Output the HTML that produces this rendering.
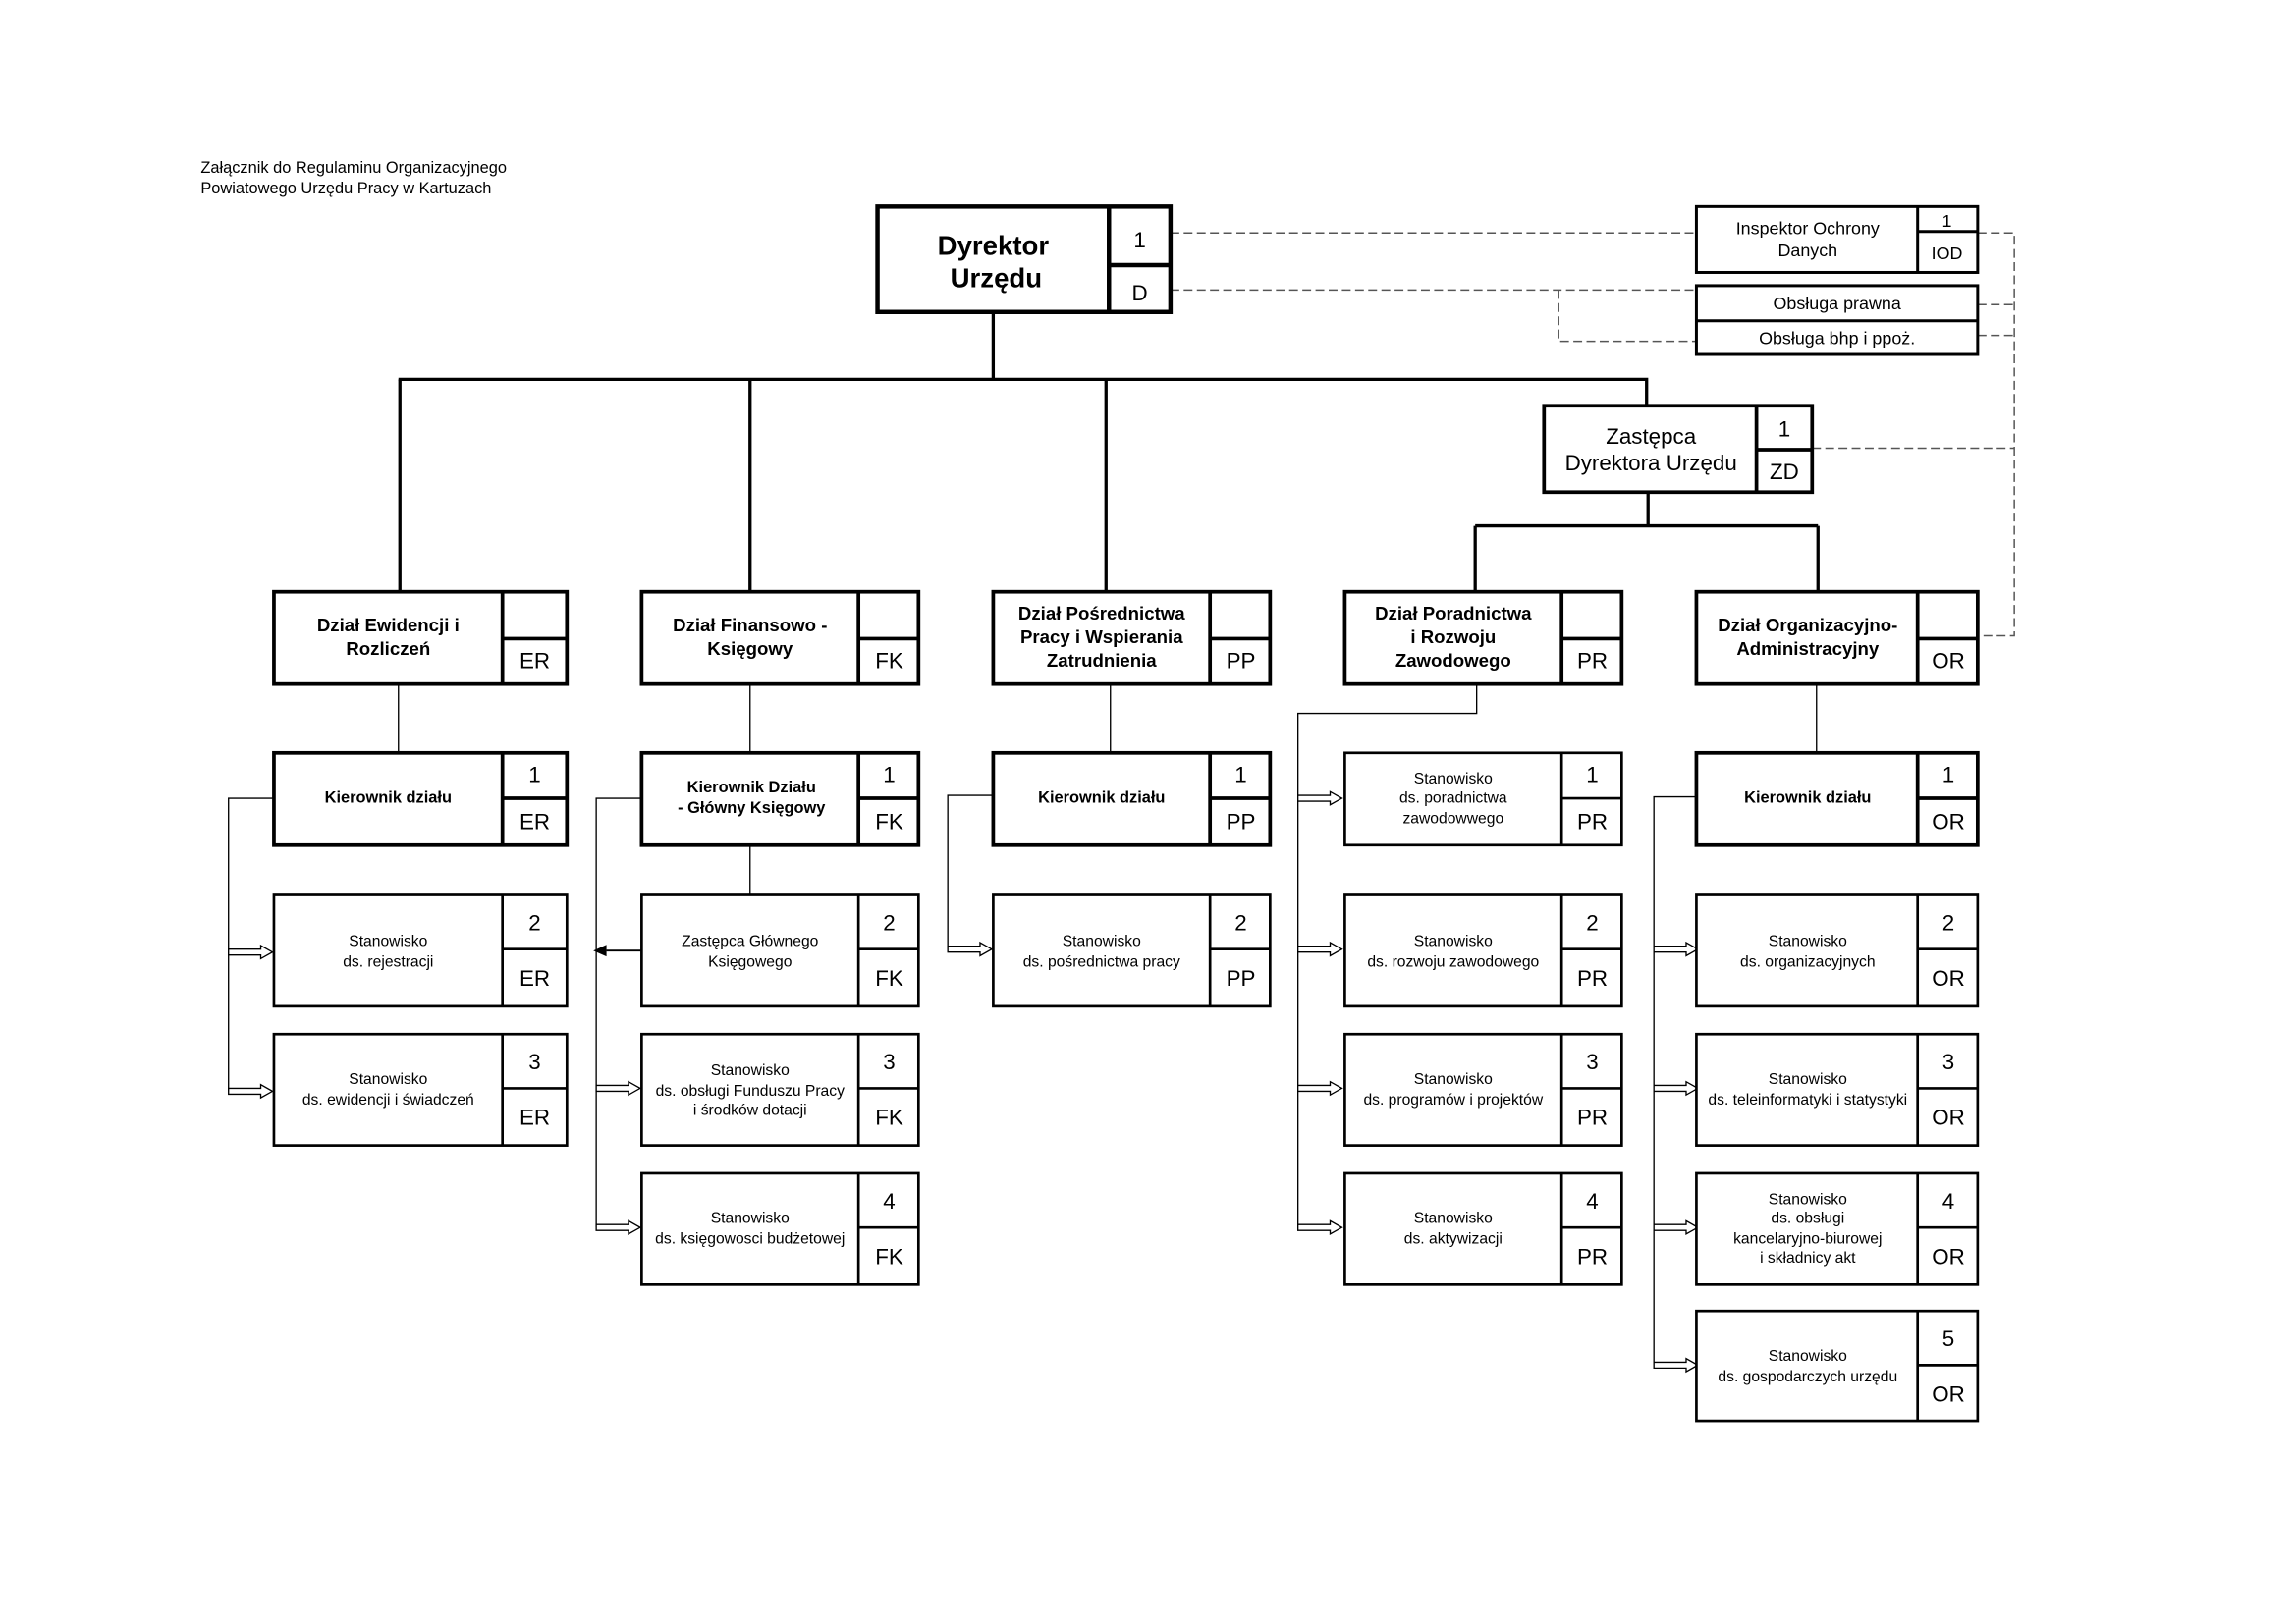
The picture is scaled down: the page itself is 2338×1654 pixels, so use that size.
<!DOCTYPE html>
<html><head><meta charset="utf-8"><style>
html,body{margin:0;padding:0;background:#fff}
svg{display:block}
text{font-family:"Liberation Sans",Arial,sans-serif;fill:#000}
.b{font-weight:bold}
.s{font-size:10.5px;fill:#222}
.c{font-size:15px}
.n{font-size:14.5px}
</style></head><body>
<svg width="2338" height="1654" viewBox="0 0 1567.3 1108.7" preserveAspectRatio="none" xmlns="http://www.w3.org/2000/svg">
<defs>
<g id="ha"><polygon points="0,-2 22,-2 22,-4.5 30,0 22,4.5 22,2 0,2" fill="#fff" stroke="#000" stroke-width="0.9"/></g>
</defs>
<rect width="1567.3" height="1108.7" fill="#fff"/>
<text x="137" y="118" font-size="11">Załącznik do Regulaminu Organizacyjnego</text>
<text x="137" y="132" font-size="11">Powiatowego Urzędu Pracy w Kartuzach</text>

<g stroke="#555" stroke-width="1" stroke-dasharray="6,3" fill="none">
<path d="M799,159 H1158"/>
<path d="M799,198 H1158"/>
<path d="M1064,198 V233 H1158"/>
<path d="M1350,159 H1375 V434 H1350"/>
<path d="M1350,208 H1375"/>
<path d="M1350,229 H1375"/>
<path d="M1237,306 H1375"/>
</g>

<g stroke="#000" stroke-width="2.2" fill="none">
<path d="M678,213 V259"/>
<path d="M272,259 H1124 V277"/>
<path d="M273,259 V404"/>
<path d="M512,259 V404"/>
<path d="M755,259 V404"/>
<path d="M1125,336 V359"/>
<path d="M1007,359 H1241"/>
<path d="M1007,359 V404"/>
<path d="M1241,359 V404"/>
</g>
<g stroke="#000" stroke-width="0.9" fill="none">
<path d="M272,467 V514"/>
<path d="M512,467 V514"/>
<path d="M512,577 V611"/>
<path d="M758,467 V514"/>
<path d="M1240,467 V514"/>
<path d="M187,545 H156 V745"/>
<path d="M438,545 H407 V838"/>
<path d="M678,543 H647 V648"/>
<path d="M1008,467 V487 H886 V838"/>
<path d="M1158,544 H1129 V932"/>
</g>
<path d="M438,649 H414" stroke="#000" stroke-width="1.3"/>
<polygon points="405,649 414,645 414,653" fill="#000"/>
<use href="#ha" x="156" y="650"/><use href="#ha" x="156" y="745"/>
<use href="#ha" x="407" y="743"/><use href="#ha" x="407" y="838"/>
<use href="#ha" x="647" y="648"/>
<use href="#ha" x="886" y="545"/><use href="#ha" x="886" y="648"/><use href="#ha" x="886" y="743"/><use href="#ha" x="886" y="838"/>
<use href="#ha" x="1129" y="648"/><use href="#ha" x="1129" y="743"/><use href="#ha" x="1129" y="838"/><use href="#ha" x="1129" y="932"/>

<g fill="#fff" stroke="#000">
<rect x="599" y="141" width="200" height="72" stroke-width="3"/>
<path d="M757,141 V213 M757,181 H799" stroke-width="3"/>
<rect x="1158" y="141" width="192" height="45" stroke-width="2"/>
<path d="M1309,141 V186 M1309,158 H1350" stroke-width="2"/>
<rect x="1158" y="195" width="192" height="47" stroke-width="2"/>
<path d="M1158,219 H1350" stroke-width="2"/>
<rect x="1054" y="277" width="183" height="59" stroke-width="2.5"/>
<path d="M1199,277 V336 M1199,307 H1237" stroke-width="2.5"/>
<g stroke-width="2.5">
<rect x="187" y="404" width="200" height="63"/><path d="M343,404 V467 M343,436 H387"/>
<rect x="438" y="404" width="189" height="63"/><path d="M586,404 V467 M586,436 H627"/>
<rect x="678" y="404" width="189" height="63"/><path d="M826,404 V467 M826,436 H867"/>
<rect x="918" y="404" width="189" height="63"/><path d="M1066,404 V467 M1066,436 H1107"/>
<rect x="1158" y="404" width="192" height="63"/><path d="M1309,404 V467 M1309,436 H1350"/>
<rect x="187" y="514" width="200" height="63"/><path d="M343,514 V577 M343,545 H387"/>
<rect x="438" y="514" width="189" height="63"/><path d="M586,514 V577 M586,545 H627"/>
<rect x="678" y="514" width="189" height="63"/><path d="M826,514 V577 M826,545 H867"/>
<rect x="1158" y="514" width="192" height="63"/><path d="M1309,514 V577 M1309,545 H1350"/>
</g>
<g stroke-width="1.8">
<rect x="918" y="514" width="189" height="63"/><path d="M1066,514 V577 M1066,545 H1107"/>
<rect x="187" y="611" width="200" height="76"/><path d="M343,611 V687 M343,648 H387"/>
<rect x="438" y="611" width="189" height="76"/><path d="M586,611 V687 M586,648 H627"/>
<rect x="678" y="611" width="189" height="76"/><path d="M826,611 V687 M826,648 H867"/>
<rect x="918" y="611" width="189" height="76"/><path d="M1066,611 V687 M1066,648 H1107"/>
<rect x="1158" y="611" width="192" height="76"/><path d="M1309,611 V687 M1309,648 H1350"/>
<rect x="187" y="706" width="200" height="76"/><path d="M343,706 V782 M343,743 H387"/>
<rect x="438" y="706" width="189" height="76"/><path d="M586,706 V782 M586,743 H627"/>
<rect x="918" y="706" width="189" height="76"/><path d="M1066,706 V782 M1066,743 H1107"/>
<rect x="1158" y="706" width="192" height="76"/><path d="M1309,706 V782 M1309,743 H1350"/>
<rect x="438" y="801" width="189" height="76"/><path d="M586,801 V877 M586,838 H627"/>
<rect x="918" y="801" width="189" height="76"/><path d="M1066,801 V877 M1066,838 H1107"/>
<rect x="1158" y="801" width="192" height="76"/><path d="M1309,801 V877 M1309,838 H1350"/>
<rect x="1158" y="895" width="192" height="75"/><path d="M1309,895 V970 M1309,932 H1350"/>
</g>
</g>

<g text-anchor="middle">
<text x="678" y="174" font-size="18.5" class="b">Dyrektor</text>
<text x="680" y="196" font-size="18.5" class="b">Urzędu</text>
<text x="778" y="169" font-size="15">1</text>
<text x="778" y="205" font-size="15">D</text>

<text x="1234" y="160" font-size="12">Inspektor Ochrony</text>
<text x="1234" y="175" font-size="12">Danych</text>
<text x="1329" y="155" font-size="12">1</text>
<text x="1329" y="177" font-size="12">IOD</text>
<text x="1254" y="211" font-size="12">Obsługa prawna</text>
<text x="1254" y="235" font-size="12">Obsługa bhp i ppoż.</text>

<text x="1127" y="303" font-size="15">Zastępca</text>
<text x="1127" y="321" font-size="15">Dyrektora Urzędu</text>
<text x="1218" y="298" class="c">1</text>
<text x="1218" y="327" class="c">ZD</text>

<g font-size="12.5" class="b">
<text x="265" y="431">Dział Ewidencji i</text><text x="265" y="447">Rozliczeń</text>
<text x="512" y="431">Dział Finansowo -</text><text x="512" y="447">Księgowy</text>
<text x="752" y="423">Dział Pośrednictwa</text><text x="752" y="439">Pracy i Wspierania</text><text x="752" y="455">Zatrudnienia</text>
<text x="992" y="423">Dział Poradnictwa</text><text x="992" y="439">i Rozwoju</text><text x="992" y="455">Zawodowego</text>
<text x="1234" y="431">Dział Organizacyjno-</text><text x="1234" y="447">Administracyjny</text>
</g>
<g class="c">
<text x="365" y="456">ER</text><text x="607" y="456">FK</text><text x="847" y="456">PP</text><text x="1087" y="456">PR</text><text x="1330" y="456">OR</text>
</g>

<g font-size="11" class="b">
<text x="265" y="548">Kierownik działu</text>
<text x="513" y="541">Kierownik Działu</text><text x="513" y="555">- Główny Księgowy</text>
<text x="752" y="548">Kierownik działu</text>
<text x="1234" y="548">Kierownik działu</text>
</g>
<g class="c">
<text x="365" y="534">1</text><text x="365" y="566">ER</text>
<text x="607" y="534">1</text><text x="607" y="566">FK</text>
<text x="847" y="534">1</text><text x="847" y="566">PP</text>
<text x="1087" y="534">1</text><text x="1087" y="566">PR</text>
<text x="1330" y="534">1</text><text x="1330" y="566">OR</text>

<text x="365" y="635">2</text><text x="365" y="673">ER</text>
<text x="607" y="635">2</text><text x="607" y="673">FK</text>
<text x="847" y="635">2</text><text x="847" y="673">PP</text>
<text x="1087" y="635">2</text><text x="1087" y="673">PR</text>
<text x="1330" y="635">2</text><text x="1330" y="673">OR</text>

<text x="365" y="730">3</text><text x="365" y="768">ER</text>
<text x="607" y="730">3</text><text x="607" y="768">FK</text>
<text x="1087" y="730">3</text><text x="1087" y="768">PR</text>
<text x="1330" y="730">3</text><text x="1330" y="768">OR</text>

<text x="607" y="825">4</text><text x="607" y="863">FK</text>
<text x="1087" y="825">4</text><text x="1087" y="863">PR</text>
<text x="1330" y="825">4</text><text x="1330" y="863">OR</text>

<text x="1330" y="919">5</text><text x="1330" y="957">OR</text>
</g>

<g class="s">
<text x="992" y="535">Stanowisko</text><text x="992" y="548">ds. poradnictwa</text><text x="992" y="562">zawodowwego</text>

<text x="265" y="646">Stanowisko</text><text x="265" y="660">ds. rejestracji</text>
<text x="512" y="646">Zastępca Głównego</text><text x="512" y="660">Księgowego</text>
<text x="752" y="646">Stanowisko</text><text x="752" y="660">ds. pośrednictwa pracy</text>
<text x="992" y="646">Stanowisko</text><text x="992" y="660">ds. rozwoju zawodowego</text>
<text x="1234" y="646">Stanowisko</text><text x="1234" y="660">ds. organizacyjnych</text>

<text x="265" y="740">Stanowisko</text><text x="265" y="754">ds. ewidencji i świadczeń</text>
<text x="512" y="734">Stanowisko</text><text x="512" y="748">ds. obsługi Funduszu Pracy</text><text x="512" y="761">i środków dotacji</text>
<text x="992" y="740">Stanowisko</text><text x="992" y="754">ds. programów i projektów</text>
<text x="1234" y="740">Stanowisko</text><text x="1234" y="754">ds. teleinformatyki i statystyki</text>

<text x="512" y="835">Stanowisko</text><text x="512" y="849">ds. księgowosci budżetowej</text>
<text x="992" y="835">Stanowisko</text><text x="992" y="849">ds. aktywizacji</text>
<text x="1234" y="822">Stanowisko</text><text x="1234" y="835">ds. obsługi</text><text x="1234" y="849">kancelaryjno-biurowej</text><text x="1234" y="862">i składnicy akt</text>

<text x="1234" y="929">Stanowisko</text><text x="1234" y="943">ds. gospodarczych urzędu</text>
</g>
</g>
</svg>
</body></html>
